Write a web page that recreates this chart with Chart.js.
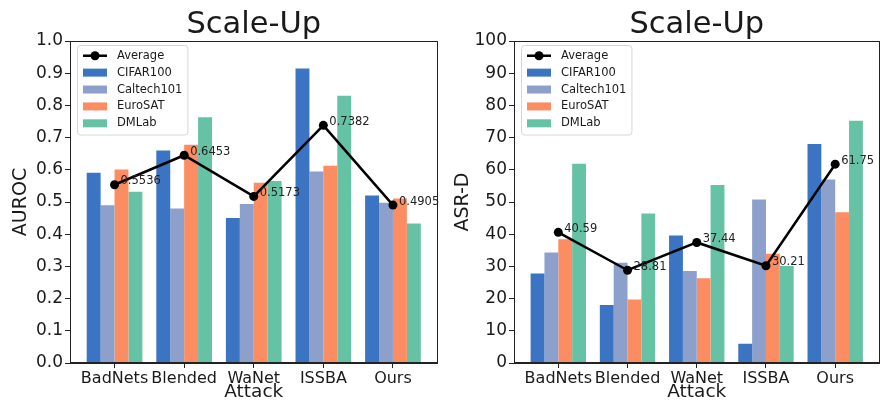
<!DOCTYPE html>
<html>
<head>
<meta charset="utf-8">
<script src="https://cdn.jsdelivr.net/npm/chart.js@4/dist/chart.umd.min.js"></script>
<style>
  html, body { margin: 0; padding: 0; background: #fff; }
  #wrap { position: relative; width: 884px; height: 406px; overflow: hidden; }
  .panel { position: absolute; top: 0; width: 442px; height: 406px; }
</style>
</head>
<body>
<div id="wrap">
  <div class="panel" style="left:0"><canvas id="auroc" width="442" height="406"></canvas></div>
  <div class="panel" style="left:442px"><canvas id="asrd" width="442" height="406"></canvas></div>
</div>
<script>
// Categories and series
const attacks = ['BadNets', 'Blended', 'WaNet', 'ISSBA', 'Ours'];
const datasetNames = ['CIFAR100', 'Caltech101', 'EuroSAT', 'DMLab'];
const datasetColors = ['#3a74c2', '#8da0cb', '#fc8d62', '#66c2a5'];

// AUROC per dataset
const aurocCIFAR100   = [0.591, 0.660, 0.450, 0.915, 0.520];
const aurocCaltech101 = [0.490, 0.480, 0.494, 0.595, 0.498];
const aurocEuroSAT    = [0.601, 0.678, 0.560, 0.613, 0.511];
const aurocDMLab      = [0.532, 0.763, 0.565, 0.830, 0.433];
const aurocAverage    = [0.5536, 0.6453, 0.5173, 0.7382, 0.4905];
const aurocTicks      = [0, 0.1, 0.2, 0.3, 0.4, 0.5, 0.6, 0.7, 0.8, 0.9, 1.0];

// ASR-D per dataset
const asrdCIFAR100   = [27.8, 18.0, 39.6, 6.0, 68.0];
const asrdCaltech101 = [34.3, 31.1, 28.6, 50.8, 57.0];
const asrdEuroSAT    = [38.4, 19.7, 26.3, 33.9, 46.8];
const asrdDMLab      = [61.86, 46.44, 55.26, 30.14, 75.2];
const asrdAverage    = [40.59, 28.81, 37.44, 30.21, 61.75];
const asrdTicks      = [0, 10, 20, 30, 40, 50, 60, 70, 80, 90, 100];

const FONT = "'DejaVu Sans', 'Liberation Sans', sans-serif";
const INK = '#1a1a1a';

// Axes frame on all four sides, drawn over the bars
const framePlugin = {
  id: 'frame',
  afterDatasetsDraw(chart) {
    const { ctx, chartArea: a } = chart;
    ctx.save();
    ctx.strokeStyle = '#222';
    ctx.lineWidth = 1;
    ctx.strokeRect(Math.round(a.left) + 0.5, Math.round(a.top) + 0.5,
                   Math.round(a.right - a.left) - 1, Math.round(a.bottom - a.top) - 1);
    ctx.restore();
  }
};

// Value labels next to the Average markers
const avgLabelPlugin = {
  id: 'avgLabels',
  afterDatasetsDraw(chart, args, opts) {
    const { ctx } = chart;
    const ds = chart.data.datasets[0];
    const meta = chart.getDatasetMeta(0);
    ctx.save();
    ctx.font = '11.5px ' + FONT;
    ctx.fillStyle = '#222';
    ctx.textAlign = 'left';
    ctx.textBaseline = 'middle';
    meta.data.forEach((pt, i) => {
      ctx.fillText(ds.data[i].y.toFixed(opts.digits), pt.x + 6, pt.y - 3.5);
    });
    ctx.restore();
  }
};

// Legend box inside the upper-left corner of the plot
const innerLegendPlugin = {
  id: 'innerLegend',
  afterDraw(chart) {
    const { ctx, chartArea: a } = chart;
    const items = chart.data.datasets;
    ctx.save();
    ctx.font = '11.5px ' + FONT;
    const textW = Math.max(...items.map(d => ctx.measureText(d.label).width));
    const x0 = a.left + 7, y0 = a.top + 4;
    const rowH = 16.9;
    const w = 40 + textW + 5, h = rowH * items.length + 5;
    ctx.beginPath();
    ctx.roundRect(x0 + 0.5, y0 + 0.5, w, h, 3);
    ctx.fillStyle = 'rgba(255,255,255,0.8)';
    ctx.fill();
    ctx.strokeStyle = '#d6d6d6';
    ctx.lineWidth = 1;
    ctx.stroke();
    items.forEach((d, i) => {
      const cy = y0 + 10.7 + i * rowH;
      if (d.type === 'line') {
        ctx.strokeStyle = '#000';
        ctx.lineWidth = 2.5;
        ctx.beginPath();
        ctx.moveTo(x0 + 6, cy);
        ctx.lineTo(x0 + 30, cy);
        ctx.stroke();
        ctx.fillStyle = '#000';
        ctx.beginPath();
        ctx.arc(x0 + 18, cy, 4.5, 0, Math.PI * 2);
        ctx.fill();
      } else {
        ctx.fillStyle = d.backgroundColor;
        ctx.fillRect(x0 + 6, cy - 4, 24, 8);
      }
      ctx.fillStyle = INK;
      ctx.textAlign = 'left';
      ctx.textBaseline = 'middle';
      ctx.fillText(d.label, x0 + 40, cy);
    });
    ctx.restore();
  }
};

function makeChart(canvasId, cfg) {
  const series = [cfg.s1, cfg.s2, cfg.s3, cfg.s4];
  const datasets = [{
    type: 'line',
    label: 'Average',
    data: cfg.avg.map((v, i) => ({ x: i, y: v })),
    borderColor: '#000',
    backgroundColor: '#000',
    borderWidth: 2.5,
    pointRadius: 4.5,
    pointBackgroundColor: '#000',
    pointBorderWidth: 0,
    tension: 0,
    order: 0
  }];
  series.forEach((vals, k) => {
    datasets.push({
      type: 'bar',
      label: datasetNames[k],
      data: vals.map((v, i) => ({ x: i, y: v })),
      backgroundColor: datasetColors[k],
      borderWidth: 0,
      categoryPercentage: 0.8,
      barPercentage: 1.0,
      order: 1
    });
  });

  return new Chart(document.getElementById(canvasId), {
    type: 'bar',
    data: { datasets },
    plugins: [framePlugin, avgLabelPlugin, innerLegendPlugin],
    options: {
      responsive: false,
      animation: false,
      events: [],
      layout: { padding: { left: 0, right: cfg.padRight, top: 0, bottom: 0 } },
      plugins: {
        legend: { display: false },
        tooltip: { enabled: false },
        title: {
          display: true,
          fullSize: false,
          text: 'Scale-Up',
          color: INK,
          font: { family: FONT, size: 30.5, weight: 'normal', lineHeight: 1.05 },
          padding: { top: 9, bottom: 0 }
        },
        avgLabels: { digits: cfg.digits }
      },
      scales: {
        x: {
          type: 'linear',
          min: -0.64,
          max: 4.64,
          offset: false,
          afterFit(s) { s.height = 43; },
          afterBuildTicks(s) { s.ticks = attacks.map((_, i) => ({ value: i })); },
          ticks: {
            autoSkip: false,
            maxRotation: 0,
            color: INK,
            padding: 1,
            font: { family: FONT, size: 16 },
            callback: (v) => attacks[v]
          },
          grid: { offset: false, drawOnChartArea: false, drawTicks: true, tickLength: 5, tickColor: '#222' },
          border: { display: true, color: '#222', width: 1 },
          title: {
            display: true,
            text: 'Attack',
            color: INK,
            font: { family: FONT, size: 18.5 },
            padding: { top: 0, bottom: 3 }
          }
        },
        y: {
          min: cfg.ticks[0],
          max: cfg.ticks[cfg.ticks.length - 1],
          afterFit(s) { s.width = cfg.yWidth; },
          afterBuildTicks(s) { s.ticks = cfg.ticks.map(v => ({ value: v })); },
          ticks: {
            color: INK,
            padding: 2,
            font: { family: FONT, size: 17 },
            callback: cfg.tickFmt
          },
          grid: { drawOnChartArea: false, drawTicks: true, tickLength: 5, tickColor: '#222' },
          border: { display: true, color: '#222', width: 1 },
          title: {
            display: true,
            text: cfg.yTitle,
            color: INK,
            font: { family: FONT, size: 19 },
            padding: { top: 10, bottom: 0 }
          }
        }
      }
    }
  });
}

makeChart('auroc', {
  s1: aurocCIFAR100, s2: aurocCaltech101, s3: aurocEuroSAT, s4: aurocDMLab,
  avg: aurocAverage, ticks: aurocTicks, digits: 4,
  tickFmt: (v) => Number(v).toFixed(1),
  yTitle: 'AUROC', yWidth: 70, padRight: 1
});

makeChart('asrd', {
  s1: asrdCIFAR100, s2: asrdCaltech101, s3: asrdEuroSAT, s4: asrdDMLab,
  avg: asrdAverage, ticks: asrdTicks, digits: 2,
  tickFmt: (v) => String(v),
  yTitle: 'ASR-D', yWidth: 72, padRight: 0
});
</script>
</body>
</html>
